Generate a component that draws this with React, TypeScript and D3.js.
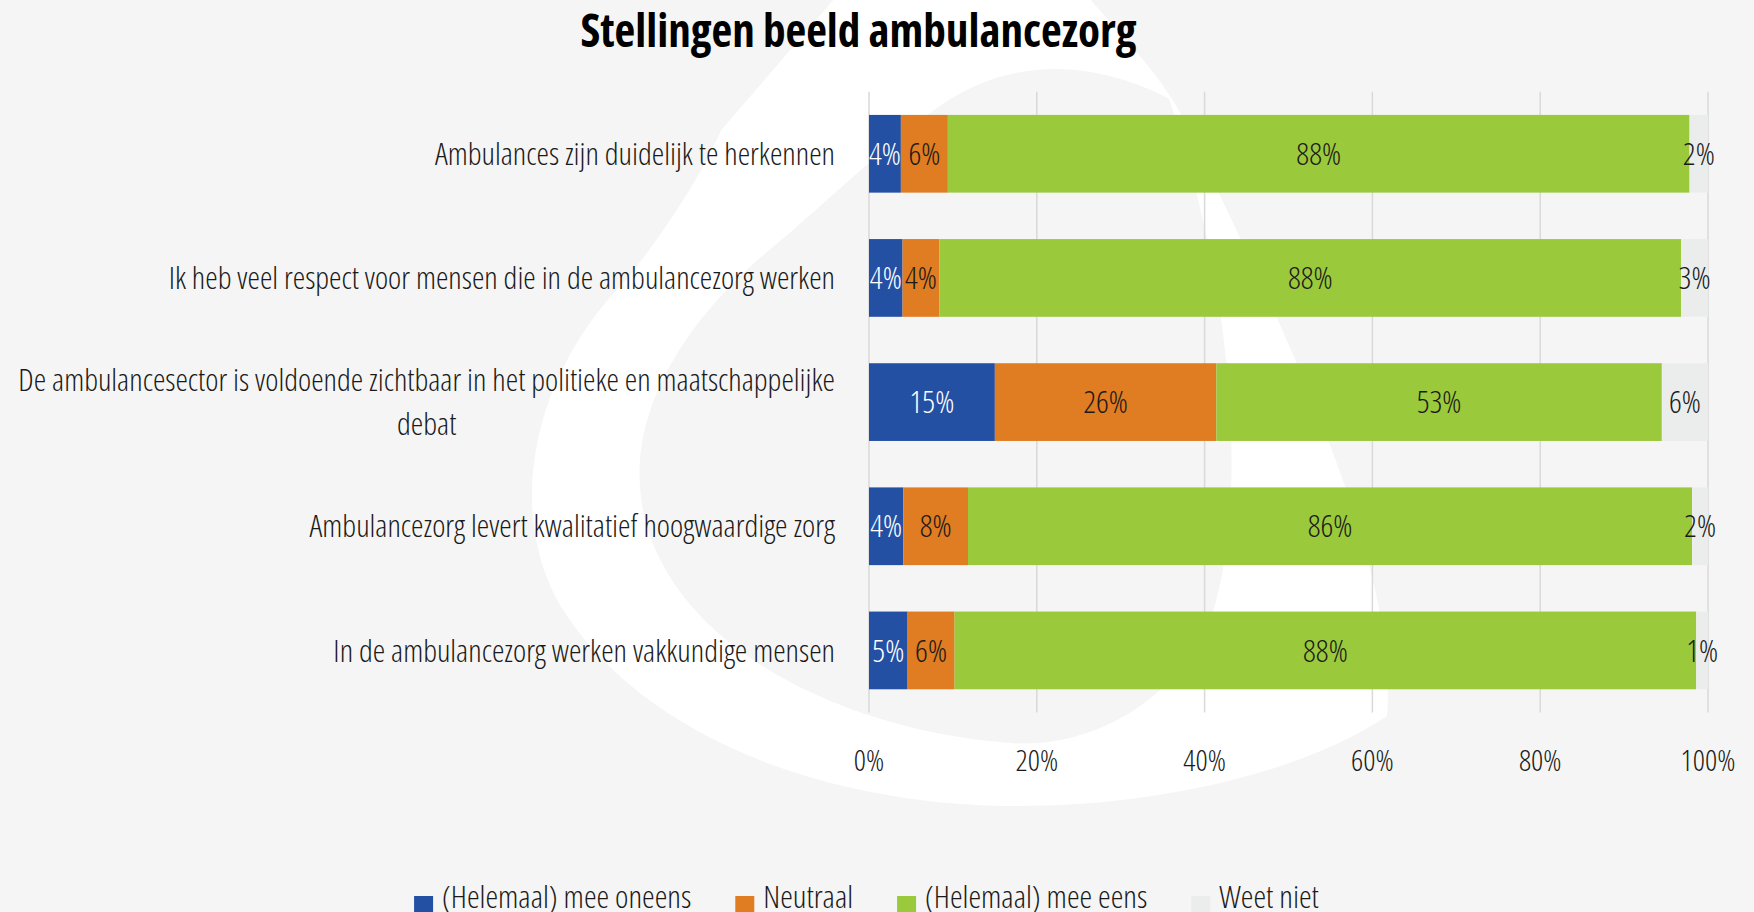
import React, { useEffect, useRef } from "react";
import * as d3 from "d3";

const W = 1754;
const H = 912;

const title = "Stellingen beeld ambulancezorg";

const categories = [
  "Ambulances zijn duidelijk te herkennen",
  "Ik heb veel respect voor mensen die in de ambulancezorg werken",
  "De ambulancesector is voldoende zichtbaar in het politieke en maatschappelijke debat",
  "Ambulancezorg levert kwalitatief hoogwaardige zorg",
  "In de ambulancezorg werken vakkundige mensen",
];

const seriesNames = ["(Helemaal) mee oneens", "Neutraal", "(Helemaal) mee eens", "Weet niet"];
const seriesKeys = ["oneens", "neutraal", "eens", "weetNiet"];

const oneens = [3.8, 4.0, 15.0, 4.1, 4.6];
const neutraal = [5.6, 4.4, 26.4, 7.7, 5.6];
const eens = [88.4, 88.4, 53.1, 86.3, 88.4];
const weetNiet = [2.2, 3.2, 5.5, 1.9, 1.4];

const xTicks = [0, 20, 40, 60, 80, 100];

const colors = ["#2350A3", "#E07C21", "#9BC93C", "#EBEDED"];
const labelColors = ["#FFFFFF", "#1A1A1A", "#1A1A1A", "#1A1A1A"];

const FONT = "'Open Sans', 'Noto Sans', sans-serif";

function draw(node: SVGSVGElement) {
  const svg = d3.select(node);
  svg.selectAll("*").remove();

  const measure = (txt: string, size: number, weight: number) => {
    const t = svg
      .append("text")
      .attr("font-family", FONT)
      .attr("font-size", size)
      .attr("font-weight", weight)
      .style("font-stretch", "condensed")
      .text(txt);
    const w = (t.node() as SVGTextElement).getComputedTextLength();
    t.remove();
    return w;
  };
  const kLight = 400 / measure(categories[0], 31, 300);
  const kBold = 556 / measure(title, 46, 700);

  const condense = (sel: any, k: number) => {
    sel.each(function (this: SVGTextElement) {
      const w = this.getComputedTextLength();
      d3.select(this).attr("textLength", w * k).attr("lengthAdjust", "spacingAndGlyphs");
    });
  };

  // background
  svg.append("rect").attr("width", W).attr("height", H).attr("fill", "#F5F5F5");

  // watermark logo (decorative)
  const wm = svg.append("g").attr("transform", "scale(1.1186)");
  wm.append("path")
    .attr("fill", "#FFFFFF")
    .attr("fill-rule", "evenodd")
    .attr(
      "d",
      "M745,0 L975,0 C1010,40 1040,70 1060,110 C1150,300 1250,500 1240,640 C1150,700 1000,725 880,720 C700,712 560,640 500,540 C450,450 480,330 560,250 C600,200 630,150 645,116 Z " +
        "M815,115 C880,55 960,45 1045,88 C1100,250 1120,450 1080,560 C1040,640 960,670 900,664 C780,655 640,600 590,500 C540,400 600,300 680,230 C740,180 780,140 815,115 Z"
    );

  const x = d3.scaleLinear().domain([0, 100]).range([869, 1708]);
  const y = d3
    .scaleBand<string>()
    .domain(categories)
    .range([91.7, 712.5])
    .paddingInner(0.374)
    .paddingOuter(0.187);

  // gridlines
  svg
    .append("g")
    .selectAll("line")
    .data(xTicks)
    .join("line")
    .attr("x1", (d) => x(d))
    .attr("x2", (d) => x(d))
    .attr("y1", y.range()[0])
    .attr("y2", y.range()[1])
    .attr("stroke", "#D9D9D9")
    .attr("stroke-width", 1.5);

  const rows = categories.map((c, i) => ({
    cat: c,
    oneens: oneens[i],
    neutraal: neutraal[i],
    eens: eens[i],
    weetNiet: weetNiet[i],
  }));
  const stacked = d3.stack<any>().keys(seriesKeys)(rows);

  const gBars = svg.append("g");
  stacked.forEach((layer, si) => {
    gBars
      .append("g")
      .attr("fill", colors[si])
      .selectAll("rect")
      .data(layer)
      .join("rect")
      .attr("x", (d) => x(d[0]))
      .attr("width", (d) => x(d[1]) - x(d[0]))
      .attr("y", (d) => y(d.data.cat) as number)
      .attr("height", y.bandwidth());
  });

  // data labels
  stacked.forEach((layer, si) => {
    const sel = svg
      .append("g")
      .selectAll("text")
      .data(layer)
      .join("text")
      .attr("x", (d) => x((d[0] + d[1]) / 2))
      .attr("y", (d) => (y(d.data.cat) as number) + y.bandwidth() / 2)
      .attr("dy", "0.36em")
      .attr("text-anchor", "middle")
      .attr("font-family", FONT)
      .attr("font-size", 31)
      .attr("font-weight", 300)
      .style("font-stretch", "condensed")
      .attr("fill", labelColors[si])
      .text((d) => `${Math.round(d[1] - d[0])}%`);
    condense(sel, kLight);
  });

  // category labels (wrapped)
  const labelRight = 835;
  const maxLabelW = 826;
  categories.forEach((c) => {
    const words = c.split(" ");
    const lines: string[] = [];
    let cur = "";
    words.forEach((wd) => {
      const test = cur ? cur + " " + wd : wd;
      if (measure(test, 31, 300) * kLight > maxLabelW && cur) {
        lines.push(cur);
        cur = wd;
      } else cur = test;
    });
    lines.push(cur);
    const cy = (y(c) as number) + y.bandwidth() / 2;
    const lh = 44;
    const t = svg
      .append("g")
      .selectAll("text")
      .data(lines)
      .join("text")
      .attr("x", labelRight)
      .attr("y", (_, i) => cy + (i - (lines.length - 1) / 2) * lh)
      .attr("dy", "0.36em")
      .attr("font-family", FONT)
      .attr("font-size", 31)
      .attr("font-weight", 300)
      .style("font-stretch", "condensed")
      .attr("fill", "#1A1A1A")
      .text((d) => d);
    condense(t, kLight);
    if (lines.length > 1) {
      const widths: number[] = [];
      t.each(function (this: SVGTextElement) {
        widths.push(parseFloat(this.getAttribute("textLength") || "0"));
      });
      const maxW = d3.max(widths) as number;
      t.attr("x", labelRight - maxW / 2).attr("text-anchor", "middle");
    } else {
      t.attr("text-anchor", "end");
    }
  });

  // x tick labels
  const tl = svg
    .append("g")
    .selectAll("text")
    .data(xTicks)
    .join("text")
    .attr("x", (d) => x(d))
    .attr("y", 760)
    .attr("dy", "0.36em")
    .attr("text-anchor", "middle")
    .attr("font-family", FONT)
    .attr("font-size", 29.5)
    .attr("font-weight", 300)
    .style("font-stretch", "condensed")
    .attr("fill", "#1A1A1A")
    .text((d) => `${d}%`);
  condense(tl, kLight);

  // title
  const tt = svg
    .append("text")
    .attr("x", 858.5)
    .attr("y", 47)
    .attr("text-anchor", "middle")
    .attr("font-family", FONT)
    .attr("font-size", 46)
    .attr("font-weight", 700)
    .style("font-stretch", "condensed")
    .attr("fill", "#000000")
    .text(title);
  condense(tt, kBold);

  // legend
  const legFont = 31.5;
  const sq = 19;
  const gapSq = 9;
  const gapItem = 44;
  const legTexts = seriesNames.map((n) => measure(n, legFont, 300) * kLight);
  const total =
    d3.sum(legTexts) + seriesNames.length * (sq + gapSq) + (seriesNames.length - 1) * gapItem;
  let lx = 866.5 - total / 2;
  const lg = svg.append("g");
  seriesNames.forEach((n, i) => {
    lg.append("rect")
      .attr("x", lx)
      .attr("y", 896)
      .attr("width", sq)
      .attr("height", sq)
      .attr("fill", colors[i]);
    const t = lg
      .append("text")
      .attr("x", lx + sq + gapSq)
      .attr("y", 908)
      .attr("font-family", FONT)
      .attr("font-size", legFont)
      .attr("font-weight", 300)
      .style("font-stretch", "condensed")
      .attr("fill", "#1A1A1A")
      .text(n);
    condense(t, kLight);
    lx += sq + gapSq + legTexts[i] + gapItem;
  });
}

export default function App() {
  const ref = useRef<SVGSVGElement>(null);
  useEffect(() => {
    if (ref.current) draw(ref.current);
  }, []);
  return (
    <svg
      ref={ref}
      width={W}
      height={H}
      style={{ position: "absolute", left: 0, top: 0, display: "block" }}
    />
  );
}
